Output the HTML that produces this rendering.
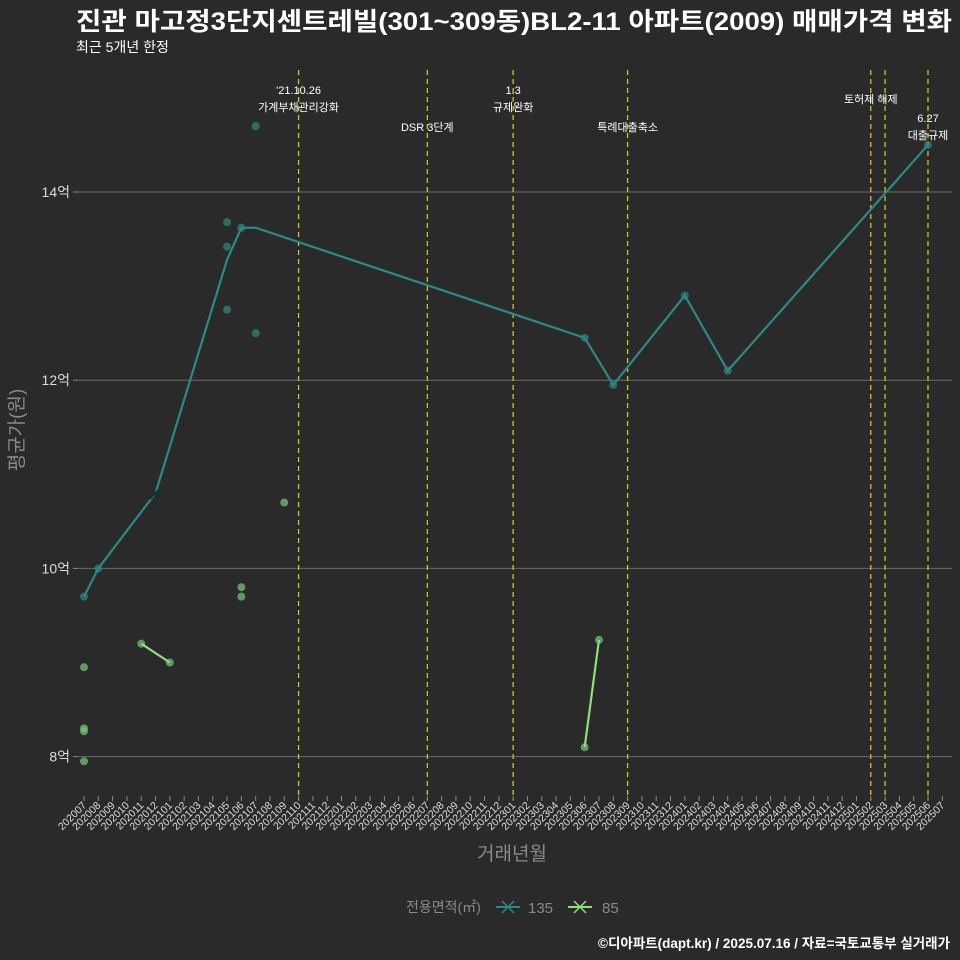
<!DOCTYPE html>
<html><head><meta charset="utf-8">
<style>
html,body{margin:0;padding:0;background:#2b2a2b;}
svg{display:block;font-family:"Liberation Sans","Noto Sans CJK KR",sans-serif;}
</style></head>
<body>
<svg id="chart" width="960" height="960" viewBox="0 0 960 960">
<rect x="0" y="0" width="960" height="960" fill="#2b2a2b"/>
<text x="76" y="30" font-size="25" font-weight="bold" fill="#ffffff" textLength="876" lengthAdjust="spacingAndGlyphs">진관 마고정3단지센트레빌(301~309동)BL2-11 아파트(2009) 매매가격 변화</text>
<text x="76" y="52" font-size="14" fill="#ffffff">최근 5개년 한정</text>
<g id="grid"></g>
<g id="vlines"></g>
<g id="series"></g>
<g id="xaxis"></g>
<g id="yaxis"></g>
<text x="512" y="860" font-size="19" fill="#8a8a8a" text-anchor="middle">거래년월</text>
<text transform="translate(23,430) rotate(-90)" font-size="19" fill="#8a8a8a" text-anchor="middle">평균가(원)</text>
<g>
<text x="406" y="912" font-size="14" fill="#8a8a8a">전용면적(㎡)</text>
<g>
<line x1="496" y1="907" x2="520" y2="907" stroke="#2a8a86" stroke-width="2"/>
<path d="M502 901 L514 913 M514 901 L502 913" stroke="#2a8a86" stroke-width="1.5"/>
<text x="528" y="913" font-size="15" fill="#8a8a8a">135</text>
</g>
<g>
<line x1="568" y1="907" x2="592" y2="907" stroke="#8ee07a" stroke-width="2"/>
<path d="M574 901 L586 913 M586 901 L574 913" stroke="#8ee07a" stroke-width="1.5"/>
<text x="602" y="913" font-size="15" fill="#8a8a8a">85</text>
</g>
</g>
<text x="950" y="948" font-size="13.5" font-weight="bold" fill="#ffffff" text-anchor="end">©디아파트(dapt.kr) / 2025.07.16 / 자료=국토교통부 실거래가</text>
</svg>
<script>
const months = [];
for (let y = 2020; y <= 2025; y++) for (let m = 1; m <= 12; m++) { const k = y*100+m; if (k >= 202007 && k <= 202507) months.push(String(k)); }
const yTicks = [8, 10, 12, 14];
const yTickLabels = ["8억", "10억", "12억", "14억"];
const line135Months = ["202007","202008","202012","202105","202106","202107","202306","202308","202401","202404","202506"];
const line135Values = [9.7, 10.0, 10.8, 13.28, 13.62, 13.62, 12.45, 11.95, 12.9, 12.1, 14.5];
const pts135Months = ["202007","202008","202105","202105","202105","202106","202107","202107","202306","202308","202401","202404","202506"];
const pts135Values = [9.7, 10.0, 13.68, 13.42, 12.75, 13.62, 14.7, 12.5, 12.45, 11.95, 12.9, 12.1, 14.5];
const cross135Months = ["202012"];
const cross135Values = [10.8];
const line85aMonths = ["202011","202101"];
const line85aValues = [9.2, 9.0];
const line85bMonths = ["202306","202307"];
const line85bValues = [8.1, 9.24];
const pts85Months = ["202007","202007","202007","202007","202011","202101","202106","202106","202109","202306","202307"];
const pts85Values = [8.95, 8.3, 8.27, 7.95, 9.2, 9.0, 9.8, 9.7, 10.7, 8.1, 9.24];
const eventMonths = ["202110","202207","202301","202309","202502","202503","202506"];
const eventLabels = [["'21.10.26","가계부채관리강화"],["DSR 3단계"],["1.3","규제완화"],["특례대출축소"],["토허제 해제"],[],["6.27","대출규제"]];
const eventLabelY = [[94,111],[131],[94,111],[131],[103],[],[122,139]];

const NS = "http://www.w3.org/2000/svg";
const X0 = 84, XSTEP = 14.305, Y14 = 192, YPER = 94.1;
const xs = m => X0 + months.indexOf(m) * XSTEP;
const ys = v => Y14 + (14 - v) * YPER;
function mk(tag, attrs, parent) { const e = document.createElementNS(NS, tag); for (const k in attrs) e.setAttribute(k, attrs[k]); parent.appendChild(e); return e; }

const grid = document.getElementById('grid');
const yaxis = document.getElementById('yaxis');
yTicks.forEach((t, i) => {
  const g = mk('line', {x1: 78, x2: 952, y1: ys(t), y2: ys(t), stroke: '#6a6a6a', 'stroke-width': 1}, grid);
  
  
  mk('line', {x1: 73, x2: 78, y1: ys(t), y2: ys(t), stroke: '#8a8a8a'}, yaxis);
  const tx = mk('text', {x: 70, y: ys(t) + 5, 'font-size': 14, fill: '#dddddd', 'text-anchor': 'end'}, yaxis);
  tx.textContent = yTickLabels[i];
  
  
});

const xaxis = document.getElementById('xaxis');
months.forEach(m => {
  const x = xs(m);
  mk('line', {x1: x, x2: x, y1: 796, y2: 801, stroke: '#8a8a8a'}, xaxis);
  const tx = mk('text', {x: 0, y: 0, 'font-size': 10.5, fill: '#dddddd', 'text-anchor': 'end', transform: `translate(${x+3},${806}) rotate(-45)`}, xaxis);
  tx.textContent = m;
  
  
});

const vl = document.getElementById('vlines');
eventMonths.forEach((m, i) => {
  const x = xs(m);
  const l = mk('line', {x1: x, x2: x, y1: 70, y2: 800, stroke: '#c8c81e', 'stroke-width': 1.3, 'stroke-dasharray': '5,4'}, vl);
  
  
  eventLabels[i].forEach((s, j) => {
    const t = mk('text', {x: x, y: eventLabelY[i][j], 'font-size': 11, fill: '#ffffff', 'text-anchor': 'middle'}, vl);
    t.textContent = s;
    
    
  });
});

const ser = document.getElementById('series');
function drawLine(ms, vs, color, name) {
  const p = mk('polyline', {points: ms.map((m, i) => xs(m) + ',' + ys(vs[i])).join(' '), fill: 'none', stroke: color, 'stroke-width': 2.2}, ser);
  
  
}
function drawPts(ms, vs, color, name) {
  ms.forEach((m, i) => {
    const c = mk('circle', {cx: xs(m), cy: ys(vs[i]), r: 4, fill: color, 'fill-opacity': 0.7}, ser);
    
    
  });
}
drawPts(pts85Months, pts85Values, '#7ac77a', 'point-85');
drawPts(pts135Months, pts135Values, '#2e8a80', 'point-135');
drawLine(line135Months, line135Values, '#2a8a86', 'line-135');
drawLine(line85aMonths, line85aValues, '#8ee07a', 'line-85');
drawLine(line85bMonths, line85bValues, '#8ee07a', 'line-85');
cross135Months.forEach((m, i) => {
  const x = xs(m), y = ys(cross135Values[i]);
  const p = mk('path', {d: `M${x-6} ${y-6} L${x+6} ${y+6} M${x+6} ${y-6} L${x-6} ${y+6}`, stroke: '#113333', 'stroke-width': 2}, ser);
  
  
});
</script>
</body></html>
